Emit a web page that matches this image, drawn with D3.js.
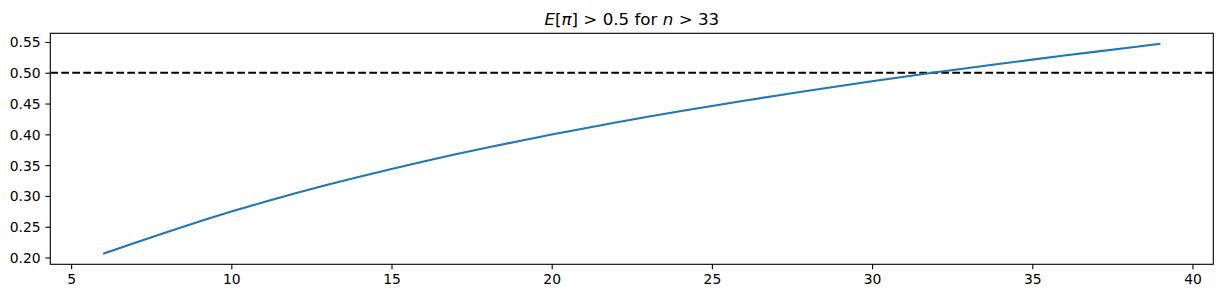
<!DOCTYPE html>
<html>
<head>
<meta charset="utf-8">
<script src="https://cdn.jsdelivr.net/npm/d3@7"></script>
<style>
  html, body { margin: 0; padding: 0; background: #fff; }
  svg { display: block; font-family: "DejaVu Sans", sans-serif; }
</style>
</head>
<body>
<svg id="chart" width="1222" height="298"></svg>
<script>
// ---- data ----
const nValues = [6, 7, 8, 9, 10, 11, 12, 13, 14, 15, 16, 17, 18, 19, 20, 21, 22,
  23, 24, 25, 26, 27, 28, 29, 30, 31, 32, 33, 34, 35, 36, 37, 38, 39];
const expectedPi = [0.2060, 0.2240, 0.2415, 0.2585, 0.2745, 0.2897, 0.3042, 0.3180,
  0.3312, 0.3438, 0.3559, 0.3675, 0.3786, 0.3893, 0.3996, 0.4095, 0.4191, 0.4284,
  0.4374, 0.4461, 0.4545, 0.4627, 0.4707, 0.4785, 0.4861, 0.4935, 0.5007, 0.5077,
  0.5146, 0.5213, 0.5279, 0.5343, 0.5406, 0.5470];
const threshold = 0.5;
const xTicks = [5, 10, 15, 20, 25, 30, 35, 40];
const yTicks = [0.20, 0.25, 0.30, 0.35, 0.40, 0.45, 0.50, 0.55];

// ---- layout ----
const svg = d3.select("#chart");
const mLeft = 50.3, mTop = 33.3, mRight = 1213.3, mBottom = 264.3;

const xMin = d3.min(nValues), xMax = d3.max(nValues);
const xPad = (xMax - xMin) * 0.05;
const yMin = d3.min(expectedPi), yMax = d3.max(expectedPi);
const yPad = (yMax - yMin) * 0.05;

const x = d3.scaleLinear().domain([xMin - xPad, xMax + xPad]).range([mLeft, mRight]);
const y = d3.scaleLinear().domain([yMin - yPad, yMax + yPad]).range([mBottom, mTop]);

const tickLen = 4.86, tickPad = 4.86;

// threshold line (axhline)
svg.append("line")
  .attr("x1", mLeft).attr("x2", mRight)
  .attr("y1", y(threshold)).attr("y2", y(threshold))
  .attr("stroke", "#000").attr("stroke-width", 2.08)
  .attr("stroke-dasharray", "7.7,3.3");

// curve
svg.append("path")
  .datum(nValues.map((n, i) => [n, expectedPi[i]]))
  .attr("fill", "none")
  .attr("stroke", "#1f77b4")
  .attr("stroke-width", 2.08)
  .attr("stroke-linejoin", "round")
  .attr("stroke-linecap", "butt")
  .attr("d", d3.line().x(d => x(d[0])).y(d => y(d[1])));

// axes
const xAxis = svg.append("g")
  .attr("transform", `translate(0,${mBottom})`)
  .call(d3.axisBottom(x).tickValues(xTicks).tickFormat(d3.format("d"))
    .tickSize(tickLen).tickPadding(tickPad).tickSizeOuter(0));
const yAxis = svg.append("g")
  .attr("transform", `translate(${mLeft},0)`)
  .call(d3.axisLeft(y).tickValues(yTicks).tickFormat(d3.format(".2f"))
    .tickSize(tickLen).tickPadding(tickPad).tickSizeOuter(0));

[xAxis, yAxis].forEach(g => {
  g.select(".domain").remove();
  g.selectAll(".tick line").attr("stroke", "#000").attr("stroke-width", 1.1);
  g.selectAll(".tick text").attr("fill", "#000")
    .style("font-family", "'DejaVu Sans', sans-serif").style("font-size", "13.9px");
});
yAxis.selectAll(".tick text").attr("dy", "0.36em");

// frame (spines)
svg.append("rect")
  .attr("x", mLeft).attr("y", mTop)
  .attr("width", mRight - mLeft).attr("height", mBottom - mTop)
  .attr("fill", "none").attr("stroke", "#000").attr("stroke-width", 1.1);

// title
const title = svg.append("text")
  .attr("x", (mLeft + mRight) / 2).attr("y", mTop - 8.5)
  .attr("text-anchor", "middle")
  .style("font-family", "'DejaVu Sans', sans-serif")
  .style("font-size", "16.7px")
  .attr("fill", "#000");
title.append("tspan").attr("font-style", "italic").text("E");
title.append("tspan").text("[");
title.append("tspan").attr("font-style", "italic").text("π");
title.append("tspan").text("] > 0.5 for ");
title.append("tspan").attr("font-style", "italic").text("n");
title.append("tspan").text(" > 33");
</script>
</body>
</html>
